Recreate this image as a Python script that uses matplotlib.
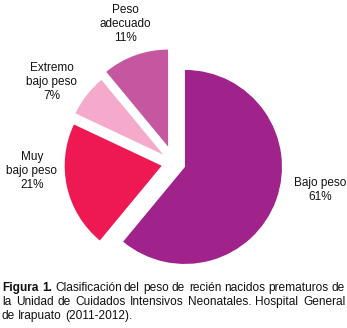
import matplotlib.pyplot as plt

categorias = ['Bajo peso', 'Muy\nbajo peso', 'Extremo\nbajo peso', 'Peso\nadecuado']
porcentajes = [61, 21, 7, 11]
colores = ['#A0228B', '#EE1952', '#F5AACB', '#C557A0']

caption_lines = [
    [('Figura', 'bold'), ('1.', 'bold'), ('Clasificación', 'normal'), ('del', 'normal'), ('peso', 'normal'),
     ('de', 'normal'), ('recién', 'normal'), ('nacidos', 'normal'), ('prematuros', 'normal'), ('de', 'normal')],
    [('la', 'normal'), ('Unidad', 'normal'), ('de', 'normal'), ('Cuidados', 'normal'), ('Intensivos', 'normal'),
     ('Neonatales.', 'normal'), ('Hospital', 'normal'), ('General', 'normal')],
    [('de', 'normal'), ('Irapuato', 'normal'), ('(2011-2012).', 'normal')],
]

W, H = 347, 328
R = 97.0          # radius in px
CX, CY = 174.0, 163.0  # pie centre in px (from top)

plt.rcParams['font.family'] = ['Liberation Sans', 'DejaVu Sans']

fig = plt.figure(figsize=(W / 100, H / 100), dpi=100)
fig.patch.set_facecolor('white')
ax = fig.add_axes([0, 0, 1, 1])

ax.pie(porcentajes, colors=colores, startangle=90, counterclock=False,
       explode=[0.12, 0.13, 0.14, 0.18], wedgeprops={'linewidth': 0})
ax.set_xlim(-CX / R, (W - CX) / R)
ax.set_ylim(-(H - CY) / R, CY / R)
ax.set_aspect('equal')
ax.axis('off')


def px(x, y):
    return (x - CX) / R, (CY - y) / R


label_pos = [(320, 190), (32, 171), (52, 82), (125, 24)]
for cat, pct, (lx, ly) in zip(categorias, porcentajes, label_pos):
    x, y = px(lx, ly)
    ax.text(x, y, f'{cat}\n{pct}%', ha='center', va='center', fontsize=8.5,
            linespacing=1.2, color='#111111')

# justified caption (baselines on whole pixels so words line up)
renderer = fig.canvas.get_renderer()
left, right = 2.0, 345.0
baselines = [291, 305, 319]
for i, (words, y) in enumerate(zip(caption_lines, baselines)):
    texts = [fig.text(0, (H - y) / H, w, fontsize=8.6, fontweight=wt, va='baseline', ha='left',
                      color='#111111') for w, wt in words]
    widths = [t.get_window_extent(renderer).width for t in texts]
    if i < len(caption_lines) - 1:
        gap = (right - left - sum(widths)) / (len(words) - 1)
    else:
        gap = 3.2
    x = left
    for t, w in zip(texts, widths):
        t.set_x(round(x) / W)
        x += w + gap

fig.savefig('out.png', dpi=100, facecolor='white')
